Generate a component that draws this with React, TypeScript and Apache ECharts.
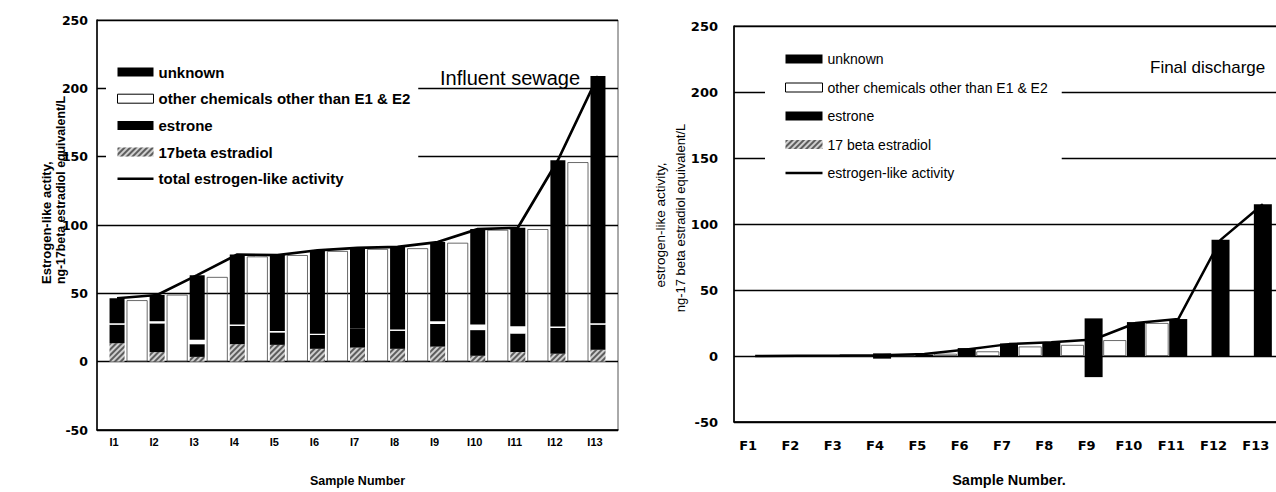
import React, { useEffect, useRef } from 'react';
import * as echarts from 'echarts';

// ---------- data ----------
const influentCategories = ['I1', 'I2', 'I3', 'I4', 'I5', 'I6', 'I7', 'I8', 'I9', 'I10', 'I11', 'I12', 'I13'];
const influentE2 = [13.5, 7, 3.5, 12.8, 12.3, 9.4, 10.3, 9.4, 11, 4.3, 7, 5.8, 8.7];
const influentE1 = [13.6, 21, 9.3, 13.4, 9.1, 10.1, 14, 13.2, 16.6, 18.8, 13.7, 18.9, 18.4];
const influentOther = [1, 1.6, 3.3, 1, 1, 1, 0, 1, 2, 4.1, 5.3, 1, 1];
const influentUnknown = [18.3, 19.2, 47.2, 51.2, 55.6, 61, 58.9, 60.4, 57.9, 69.8, 72, 121.7, 180.9];
const influentTotal = [46.4, 48.8, 63.3, 78.4, 78, 81.5, 83.2, 84, 87.5, 97, 98, 147.4, 209];
// white columns drawn between neighbouring samples (I1/I2, I2/I3, ...)
const influentGap = [45, 49, 62, 77, 78, 81, 82.5, 83, 87, 96.5, 97, 146];

const finalCategories = ['F1', 'F2', 'F3', 'F4', 'F5', 'F6', 'F7', 'F8', 'F9', 'F10', 'F11', 'F12', 'F13'];
const finalE2 = [0, 0, 0, 0, 0, 0, 0, 0, 0, 0, 0, 0, 0];
const finalE1 = [0, 0, 0, 2, 0, 0, 0, 0, 28.5, 0, 0, 0, 0];
const finalOther = [0, 0, 0, 0, 0, 0, 0, 0, 0, 0, 0, 0, 0];
const finalUnknown = [-0.7, 0, 0, -2, 1, 6, 9.5, 10.5, -16, 25.7, 28, 88, 115];
const finalTotal = [0, 0.2, 0.3, 0.5, 1.5, 5, 9, 10.5, 12.5, 25, 28, 88, 115];
// white columns between F1/F2 ... F10/F11
const finalGap = [0, 0, 0.3, 0.5, 1.7, 3.5, 7.2, 8.4, 12, 25];

const yMin = -50;
const yMax = 250;
const yInterval = 50;

const OTHER = 'other chemicals other than E1 & E2';
const FONT = 'Liberation Sans, Arial, Helvetica, sans-serif';
const NUMFONT = 'DejaVu Sans, Liberation Sans, sans-serif';
const LINE_ICON = 'path://M0,0 L36,0 L36,2.6 L0,2.6 Z';

const hatch: any = {
  symbol: 'rect',
  symbolSize: 1,
  dashArrayX: [1, 0],
  dashArrayY: [1.5, 1.5],
  rotation: -Math.PI / 4,
  color: 'rgba(0,0,0,0.55)',
  backgroundColor: '#cfcfcf',
};

function gapData(vals: number[]) {
  return vals.map((v, i) => [i + 1.5, v]);
}

function stackSeries(prefix: string, xi: number, yi: number, width: number, e2: number[], e1: number[], other: number[], unknown: number[], e2Name: string) {
  const base = { type: 'bar', stack: prefix, xAxisIndex: xi, yAxisIndex: yi, barWidth: width, z: 3 };
  return [
    { ...base, name: e2Name, data: e2, itemStyle: { color: '#cfcfcf', decal: hatch } },
    { ...base, name: 'estrone', data: e1, itemStyle: { color: '#000' } },
    { ...base, name: OTHER, data: other, itemStyle: { color: '#fff' } },
    { ...base, name: 'unknown', data: unknown, itemStyle: { color: '#000' } },
  ];
}

export default function App() {
  const ref = useRef<HTMLDivElement>(null);

  useEffect(() => {
    if (!ref.current) return;
    const chart = echarts.init(ref.current, undefined, { renderer: 'svg' });

    const yAxisCommon = (grid: number, margin: number, fs: number) => ({
      type: 'value',
      gridIndex: grid,
      min: yMin,
      max: yMax,
      interval: yInterval,
      axisLine: { show: true, lineStyle: { color: '#000', width: 1.5 } },
      axisTick: { show: false },
      splitLine: { show: true, lineStyle: { color: '#000', width: 1.4 } },
      axisLabel: { color: '#000', fontWeight: 'bold', fontSize: fs, fontFamily: NUMFONT, margin },
    });

    const option: any = {
      animation: false,
      textStyle: { fontFamily: FONT },
      grid: [
        { left: 97, top: 20, right: 672, bottom: 56, show: true, borderColor: '#555', borderWidth: 1 },
        { left: 734, top: 26, right: 6, bottom: 61, show: true, borderColor: '#000', borderWidth: 1 },
      ],
      xAxis: [
        {
          type: 'category',
          gridIndex: 0,
          data: influentCategories,
          axisLine: { onZero: false, lineStyle: { color: '#000', width: 1.5 } },
          axisTick: { inside: true, length: 4, lineStyle: { color: '#000', width: 1.2 } },
          axisLabel: { color: '#000', fontWeight: 'bold', fontSize: 11, margin: 6, fontFamily: FONT, padding: [0, 6, 0, 0] },
          name: 'Sample Number',
          nameLocation: 'middle',
          nameGap: 44,
          nameTextStyle: { color: '#000', fontWeight: 'bold', fontSize: 12.5, fontFamily: FONT },
        },
        { type: 'value', gridIndex: 0, min: 0.5, max: 13.5, show: false },
        {
          type: 'category',
          gridIndex: 1,
          data: finalCategories,
          axisLine: { onZero: false, lineStyle: { color: '#000', width: 1.5 } },
          axisTick: { inside: true, length: 4, lineStyle: { color: '#000', width: 1.2 } },
          axisLabel: { color: '#000', fontWeight: 'bold', fontSize: 13, margin: 17, fontFamily: NUMFONT, padding: [0, 14, 0, 0] },
          name: 'Sample Number.',
          nameLocation: 'middle',
          nameGap: 50,
          nameTextStyle: { color: '#000', fontWeight: 'bold', fontSize: 14.5, fontFamily: FONT },
        },
        { type: 'value', gridIndex: 1, min: 0.5, max: 13.5, show: false },
      ],
      yAxis: [yAxisCommon(0, 9, 12.5), yAxisCommon(1, 16, 13)],
      legend: [
        {
          orient: 'vertical',
          left: 106,
          top: 44,
          padding: [20, 8, 20, 11],
          backgroundColor: '#fff',
          itemWidth: 36,
          itemHeight: 9,
          itemGap: 10.7,
          selectedMode: false,
          textStyle: { color: '#000', fontSize: 15, fontWeight: 'bold', lineHeight: 16, fontFamily: FONT },
          data: [
            { name: 'unknown', icon: 'rect' },
            { name: OTHER, icon: 'rect', itemStyle: { color: '#fff', borderColor: '#000', borderWidth: 1 } },
            { name: 'estrone', icon: 'rect' },
            { name: '17beta estradiol', icon: 'rect' },
            { name: 'total estrogen-like activity', icon: LINE_ICON, itemStyle: { color: '#000' } },
          ],
        },
        {
          orient: 'vertical',
          left: 765,
          top: 36,
          padding: [15, 14, 15, 20],
          backgroundColor: '#fff',
          itemWidth: 37,
          itemHeight: 9,
          itemGap: 12.5,
          selectedMode: false,
          textStyle: { color: '#000', fontSize: 14, lineHeight: 16, fontFamily: FONT },
          data: [
            { name: 'unknown', icon: 'rect' },
            { name: OTHER, icon: 'rect', itemStyle: { color: '#fff', borderColor: '#000', borderWidth: 1 } },
            { name: 'estrone', icon: 'rect' },
            { name: '17 beta estradiol', icon: 'rect' },
            { name: 'estrogen-like activity', icon: LINE_ICON, itemStyle: { color: '#000' } },
          ],
        },
      ],
      graphic: [
        { type: 'text', x: 440, y: 78, z: 20, style: { text: 'Influent sewage', fontSize: 20, fontFamily: FONT, fill: '#000', verticalAlign: 'middle' } },
        { type: 'text', x: 1150, y: 67, z: 20, style: { text: 'Final discharge', fontSize: 17, fontFamily: FONT, fill: '#000', verticalAlign: 'middle' } },
        { type: 'text', x: 46, y: 284, rotation: Math.PI / 2, style: { text: 'Estrogen-like actity,', fontSize: 13, fontWeight: 'bold', fontFamily: FONT, fill: '#000', align: 'left', verticalAlign: 'middle' } },
        { type: 'text', x: 61, y: 284, rotation: Math.PI / 2, style: { text: 'ng-17beta estradiol equivalent/L', fontSize: 12.3, fontWeight: 'bold', fontFamily: FONT, fill: '#000', align: 'left', verticalAlign: 'middle' } },
        { type: 'text', x: 660, y: 225, rotation: Math.PI / 2, style: { text: 'estrogen-like activity,', fontSize: 13.5, fontFamily: FONT, fill: '#000', align: 'center', verticalAlign: 'middle' } },
        { type: 'text', x: 680, y: 218, rotation: Math.PI / 2, style: { text: 'ng-17 beta estradiol equivalent/L', fontSize: 13, fontFamily: FONT, fill: '#000', align: 'center', verticalAlign: 'middle' } },
      ],
      series: [
        {
          type: 'bar', name: 'influent gap', xAxisIndex: 1, yAxisIndex: 0, barWidth: 21, z: 1,
          data: gapData(influentGap),
          itemStyle: { color: 'rgba(0,0,0,0)', borderColor: '#444', borderWidth: 0.8 },
        },
        ...stackSeries('inf', 0, 0, 15, influentE2, influentE1, influentOther, influentUnknown, '17beta estradiol'),
        {
          type: 'line', name: 'total estrogen-like activity', xAxisIndex: 0, yAxisIndex: 0, z: 6,
          data: influentTotal, symbol: 'none', lineStyle: { color: '#000', width: 2.7 }, itemStyle: { color: '#000' },
        },
        {
          type: 'bar', name: 'final gap', xAxisIndex: 3, yAxisIndex: 1, barWidth: 23, z: 1,
          data: gapData(finalGap),
          itemStyle: { color: 'rgba(0,0,0,0)', borderColor: '#444', borderWidth: 0.8 },
        },
        ...stackSeries('fin', 2, 1, 18, finalE2, finalE1, finalOther, finalUnknown, '17 beta estradiol'),
        {
          type: 'line', name: 'estrogen-like activity', xAxisIndex: 2, yAxisIndex: 1, z: 6,
          data: finalTotal, symbol: 'none', lineStyle: { color: '#000', width: 2.5 }, itemStyle: { color: '#000' },
        },
      ],
    };

    chart.setOption(option);
    return () => chart.dispose();
  }, []);

  return (
    <div style={{ position: 'absolute', left: 0, top: 0, width: 1276, height: 492, overflow: 'hidden', background: '#fff' }}>
      <div ref={ref} style={{ position: 'absolute', left: 0, top: 0, width: 1290, height: 492 }} />
    </div>
  );
}
